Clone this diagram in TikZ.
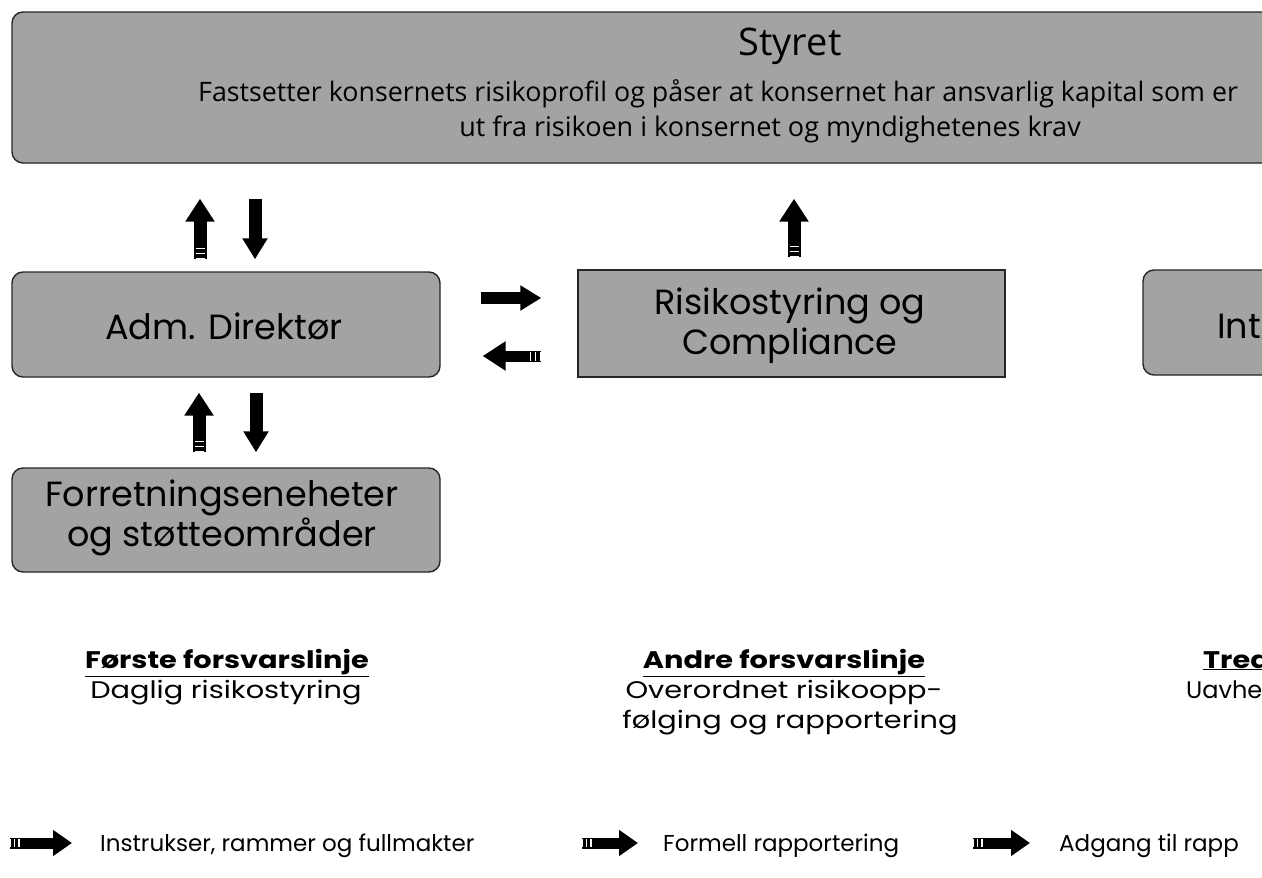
\documentclass[tikz,border=0pt]{standalone}
\usepackage{fontspec}
\setmainfont{Poppins}
\newfontfamily\descfont{Open Sans}
\newfontfamily\widefont[FakeStretch=1.2]{Poppins}
\usetikzlibrary{arrows.meta}
\begin{document}
\begin{tikzpicture}[x=1pt,y=-1pt,
  panel/.style={draw=black!85, line width=1.4pt, fill=black!36, rounded corners=11pt, inner sep=0pt},
  sqpanel/.style={panel, rounded corners=0pt},
  title/.style={font=\fontsize{35}{41}\selectfont, align=center, inner sep=0pt},
  flow/.style={line width=13pt, -{Triangle[width=24pt,length=21pt]}},
  striped/.style={line width=13pt, -{Triangle[width=28pt,length=23pt]},
      postaction={draw=white, -, line width=9pt,
      dash pattern=on 1.5pt off 3.5pt on 1.5pt off 3.5pt on 1.5pt off 600pt}},
  legarrow/.style={line width=11pt, -{Triangle[width=25pt,length=19pt]},
      postaction={draw=white, -, line width=8pt,
      dash pattern=on 1.2pt off 3pt on 1.2pt off 3pt on 1.2pt off 600pt}},
  head/.style={font=\widefont\fontsize{24}{28}\selectfont\bfseries, anchor=base, inner sep=0pt},
  sub/.style={font=\widefont\fontsize{24}{28}\selectfont, anchor=base, inner sep=0pt},
  legtext/.style={font=\fontsize{23}{27}\selectfont, anchor=base west, inner sep=0pt}
]
\useasboundingbox (0,0) rectangle (1262,878);
\clip (0,0) rectangle (1262,878);

% Board
\node[panel, minimum width=1300pt, minimum height=151pt] (styret) at (662,87.5) {};
\node[font=\descfont\fontsize{38}{42}\selectfont, anchor=base, inner sep=0pt] (styrettitle) at (790,55) {Styret};
\node[font=\descfont\fontsize{26.8}{32}\selectfont, anchor=base west, inner sep=0pt] (styretl1) at (198,101) {Fastsetter konsernets risikoprofil og påser at konsernet har ansvarlig kapital som er};
\node[font=\descfont\fontsize{27}{32}\selectfont, anchor=base, inner sep=0pt] (styretl2) at (770,136) {ut fra risikoen i konsernet og myndighetenes krav};

% Management, business units, risk control, internal audit
\node[panel, minimum width=428pt, minimum height=105pt] (adm) at (226,324.5) {};
\node[title] (admtext) at (224,326) {Adm. Direktør};
\node[panel, minimum width=428pt, minimum height=104pt] (forr) at (226,520) {};
\node[title, font=\fontsize{35}{40}\selectfont] (forrtext) at (222,518) {Forretningseneheter\\og støtteområder};
\node[sqpanel, minimum width=427pt, minimum height=107pt] (risk) at (791.5,323.5) {};
\node[title, font=\fontsize{35}{40}\selectfont] (risktext) at (790,326) {Risikostyring og\\Compliance};
\node[panel, minimum width=180pt, minimum height=105pt] (intern) at (1233,322.5) {};
\node[title, anchor=west] (interntext) at (1217,326) {Int};

% Arrows between the levels
\draw[striped, shorten <=12pt, shorten >=35pt] ([xshift=-26pt]adm.north) -- ([xshift=-26pt]adm.north |- styret.south);
\draw[flow, shorten <=35pt, shorten >=12pt] ([xshift=29pt]adm.north |- styret.south) -- ([xshift=29pt]adm.north);
\draw[striped, shorten <=15pt, shorten >=15pt] ([xshift=-27pt]forr.north) -- ([xshift=-27pt]adm.south);
\draw[flow, shorten <=15pt, shorten >=15pt] ([xshift=30pt]adm.south) -- ([xshift=30pt]forr.north);
\draw[flow, line width=12pt, shorten <=40pt, shorten >=36pt] ([yshift=26.5pt]adm.east) -- ([yshift=26.5pt]adm.east -| risk.west);
\draw[striped, line width=11pt, shorten <=36pt, shorten >=42pt] ([yshift=-31.5pt]adm.east -| risk.west) -- ([yshift=-31.5pt]adm.east);
\draw[striped, shorten <=12pt, shorten >=35pt] ([xshift=2.5pt]risk.north) -- ([xshift=2.5pt]risk.north |- styret.south);

% Lines of defence
\node[head] (first) at (227,668) {\underline{Første forsvarslinje}};
\node[sub] (firstsub) at (226,698) {Daglig risikostyring};
\node[head] (second) at (784,668) {\underline{Andre forsvarslinje}};
\node[sub] (secondsub) at (784,698) {Overordnet risikoopp-};
\node[sub] (secondsub2) at (790,728) {følging og rapportering};
\node[head, anchor=base west] (third) at (1203,668) {\underline{Tred}};
\node[sub, font=\fontsize{24}{28}\selectfont, anchor=base west] (thirdsub) at (1186,698) {Uavhe};

% Legend
\coordinate (l1a) at (10,843);  \coordinate (l1b) at (72,843);
\coordinate (l2a) at (582,843); \coordinate (l2b) at (638,843);
\coordinate (l3a) at (973,843); \coordinate (l3b) at (1030,843);
\draw[legarrow] (l1a) -- (l1b);
\draw[legarrow] (l2a) -- (l2b);
\draw[legarrow] (l3a) -- (l3b);
\node[legtext] (leg1) at (100,851) {Instrukser, rammer og fullmakter};
\node[legtext] (leg2) at (663,851) {Formell rapportering};
\node[legtext] (leg3) at (1059,851) {Adgang til rapp};
\end{tikzpicture}
\end{document}
